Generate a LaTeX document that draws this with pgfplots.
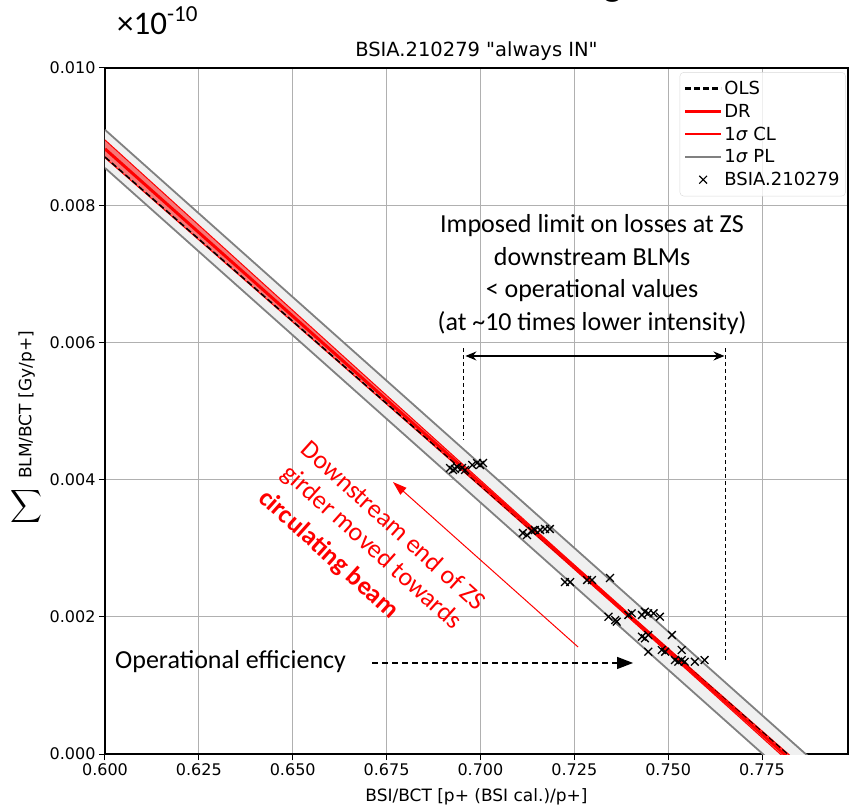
\documentclass[border=0pt]{standalone}
\usepackage{fontspec}
\setmainfont{DejaVu Sans}
\newfontfamily\plainfont{DejaVu Sans}
\newfontfamily\annfont{Carlito}
\usepackage{pgfplots}
\usepackage{pgfplotstable}
\pgfplotsset{compat=1.18}
\usetikzlibrary{arrows.meta}

\pgfplotsset{
  lline/.style={legend image code/.code={\draw[##1] (0pt,0pt) -- (36pt,0pt);}},
}

% confidence limits of the regression line
\pgfplotstableread{
x     up        lo
0.60  0.008951  0.008691
0.62  0.007957  0.007733
0.64  0.006964  0.006776
0.66  0.005971  0.005819
0.68  0.004980  0.004860
0.70  0.003990  0.003900
0.72  0.003002  0.002936
0.74  0.002024  0.001964
0.76  0.001057  0.000981
0.78  0.000096 -0.000008
0.80 -0.000863 -0.000999
}\cltab

% measured points BSIA.210279
\pgfplotstableread{
x       y
0.6919  0.004169
0.6927  0.004140
0.6932  0.004155
0.6938  0.004184
0.6951  0.004169
0.6959  0.004140
0.6978  0.004213
0.6991  0.004242
0.6999  0.004213
0.7007  0.004242
0.7113  0.003222
0.7124  0.003192
0.7137  0.003251
0.7145  0.003265
0.7159  0.003265
0.7172  0.003280
0.7185  0.003280
0.7225  0.002507
0.7239  0.002507
0.7284  0.002536
0.7297  0.002536
0.7345  0.002566
0.7341  0.002001
0.7359  0.001953
0.7363  0.001929
0.7394  0.002026
0.7403  0.002051
0.7430  0.002026
0.7438  0.002074
0.7447  0.002051
0.7461  0.002051
0.7478  0.002001
0.7430  0.001710
0.7438  0.001687
0.7447  0.001735
0.7510  0.001735
0.7447  0.001491
0.7483  0.001516
0.7492  0.001491
0.7536  0.001516
0.7518  0.001370
0.7527  0.001345
0.7536  0.001370
0.7544  0.001345
0.7571  0.001345
0.7597  0.001370
}\pts

\begin{document}
\begin{tikzpicture}[x=1pt,y=1pt]
\path[use as bounding box] (-105,-53) rectangle (745,754);
\begin{axis}[
    at={(0,0)}, anchor=south west,
    scale only axis,
    width=743pt, height=686pt,
    xmin=0.6, xmax=0.7979,
    ymin=0, ymax=0.01,
    xtick={0.6,0.625,0.65,0.675,0.7,0.725,0.75,0.775},
    ytick={0,0.002,0.004,0.006,0.008,0.01},
    scaled x ticks=false, scaled y ticks=false,
    /pgf/number format/assume math mode=true,
    xticklabel style={/pgf/number format/fixed, /pgf/number format/fixed zerofill, /pgf/number format/precision=3},
    yticklabel style={/pgf/number format/fixed, /pgf/number format/fixed zerofill, /pgf/number format/precision=3},
    tick label style={font=\fontsize{16}{16}\selectfont},
    grid=major,
    major grid style={color=gray!62, line width=0.9pt},
    tick align=outside, tick pos=left,
    major tick length=6pt,
    tick style={black, line width=1pt},
    axis line style={line width=1.2pt},
    legend style={at={(0.997,0.994)}, anchor=north east,
        font=\fontsize{18}{18}\selectfont,
        draw=gray!30, rounded corners=4pt,
        fill=white, fill opacity=0.8, text opacity=1, draw opacity=1,
        inner xsep=4pt, inner ysep=7pt, row sep=4pt},
    legend cell align=left,
]

% prediction limits
\addplot[fill=gray!12, draw=none, forget plot] coordinates {(0.6,0.009099) (0.8,-0.000653) (0.8,-0.001209) (0.6,0.008543)} -- cycle;
\addplot[gray, line width=1.8pt, forget plot] coordinates {(0.6,0.009099) (0.8,-0.000653)};
\addplot[gray, line width=1.8pt, forget plot] coordinates {(0.6,0.008543) (0.8,-0.001209)};

% confidence limits
\addplot[fill=red, fill opacity=0.5, draw=none, forget plot] coordinates {
 (0.60,0.008951) (0.62,0.007957) (0.64,0.006964) (0.66,0.005971) (0.68,0.004980) (0.70,0.003990)
 (0.72,0.003002) (0.74,0.002024) (0.76,0.001057) (0.78,0.000096) (0.80,-0.000863)
 (0.80,-0.000999) (0.78,-0.000008) (0.76,0.000981) (0.74,0.001964) (0.72,0.002936) (0.70,0.003900)
 (0.68,0.004860) (0.66,0.005819) (0.64,0.006776) (0.62,0.007733) (0.60,0.008691)} -- cycle;
\addplot[red, line width=1pt, forget plot] table[x=x, y=up] {\cltab};
\addplot[red, line width=1pt, forget plot] table[x=x, y=lo] {\cltab};

% OLS and DR
\addplot[black, line width=1.5pt, dash pattern=on 6pt off 3pt, forget plot] coordinates {(0.6,0.008703) (0.8,-0.000875)};
\addplot[red, line width=3pt, forget plot] coordinates {(0.6,0.008821) (0.8,-0.000931)};

% data
\addplot[only marks, mark=x, mark size=5.5pt, black, line width=1.3pt, forget plot] table[x=x, y=y] {\pts};

\addlegendimage{lline, black, line width=2.5pt, dash pattern=on 6pt off 3pt}
\addlegendentry{OLS}
\addlegendimage{lline, red, line width=2.5pt}
\addlegendentry{DR}
\addlegendimage{lline, red, line width=2.5pt}
\addlegendentry{1\textit{σ} CL}
\addlegendimage{lline, gray, line width=2.5pt}
\addlegendentry{1\textit{σ} PL}
\addlegendimage{only marks, black, mark=x, mark size=5.5pt, line width=1.2pt, legend image post style={xshift=9.5pt}}
\addlegendentry{BSIA.210279}

% annotations
\draw[black, line width=0.9pt, dash pattern=on 4pt off 3pt] (axis cs:0.69537,0.005918) -- (axis cs:0.69537,0.004577);
\draw[black, line width=0.9pt, dash pattern=on 4pt off 3pt] (axis cs:0.76516,0.005918) -- (axis cs:0.76516,0.00137);
\draw[black, line width=1.5pt, {Stealth[length=11pt,width=9pt]}-{Stealth[length=11pt,width=9pt]}] (axis cs:0.6960,0.005802) -- (axis cs:0.7650,0.005802);
\node[font=\annfont\fontsize{26}{32.5}\selectfont, align=center, inner sep=0pt] at (axis cs:0.72973,0.006990)
  {Imposed limit on losses at ZS\\downstream BLMs\\< operational values\\(at \textasciitilde10 times lower intensity)};

\draw[black, line width=1.3pt, dash pattern=on 6pt off 4pt, -{Triangle[length=16pt,width=12pt]}] (axis cs:0.67112,0.001327) -- (axis cs:0.74065,0.001327);
\node[anchor=west, font=\annfont\fontsize{26}{26}\selectfont, inner sep=0pt] at (axis cs:0.60266,0.001341) {Operational efficiency};

\draw[red, line width=1pt, -{Triangle[length=14pt,width=9pt]}] (axis cs:0.7260,0.00156) -- (axis cs:0.6767,0.003965);
\node[anchor=west, rotate=-42, text=red, font=\annfont\fontsize{26}{26}\selectfont, inner sep=0pt] at (axis cs:0.65328,0.004504) {Downstream end of ZS};
\node[anchor=west, rotate=-42, text=red, font=\annfont\fontsize{26}{26}\selectfont, inner sep=0pt] at (axis cs:0.64795,0.004140) {girder moved towards};
\node[anchor=west, rotate=-42, text=red, font=\annfont\bfseries\fontsize{26}{26}\selectfont, inner sep=0pt] at (axis cs:0.64182,0.003776) {circulating beam};
\end{axis}

% texts around the axis
\node[anchor=base, font=\plainfont\fontsize{19.5}{19.5}\selectfont, inner sep=0pt] at (371.5,697) {BSIA.210279 "always IN"};
\node[anchor=base, font=\fontsize{17}{17}\selectfont, inner sep=0pt] at (371.5,-47) {BSI/BCT [p+ (BSI cal.)/p+]};
\node[anchor=south, rotate=90, font=\fontsize{17}{17}\selectfont, inner sep=0pt] at (-70,349) {BLM/BCT [Gy/p+]};
\node[inner sep=0pt] at (-78,248) {\resizebox{32pt}{24pt}{$\displaystyle\sum$}};
\node[anchor=base west, font=\annfont\fontsize{33}{33}\selectfont, inner sep=0pt] at (12,719) {×10\raisebox{0.42em}{\fontsize{23}{23}\selectfont -10}};
\node[anchor=base, font=\annfont\fontsize{40}{40}\selectfont, inner sep=0pt] at (508,758) {g};
\end{tikzpicture}
\end{document}
